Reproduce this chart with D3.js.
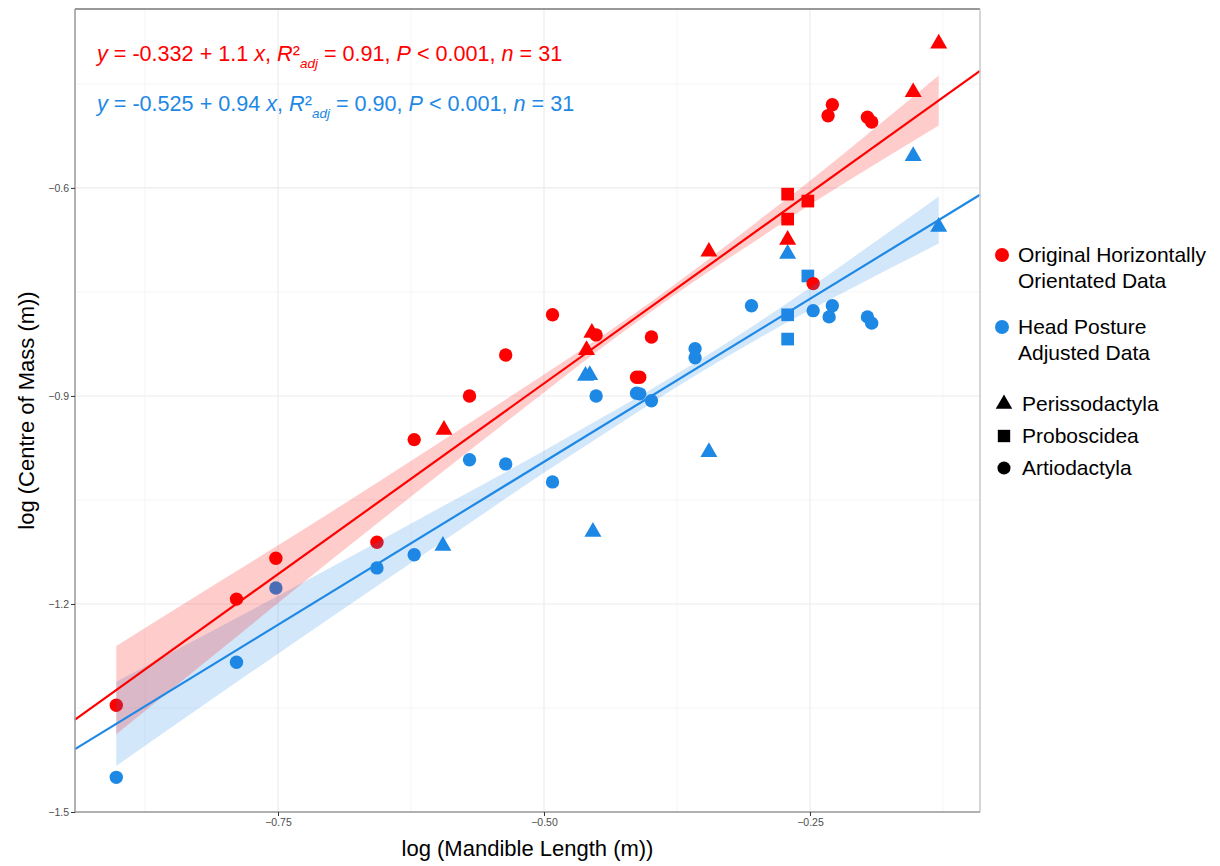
<!DOCTYPE html>
<html><head><meta charset="utf-8">
<script src="https://cdn.jsdelivr.net/npm/d3@7"></script>
<style>body{margin:0;background:#fff} svg{display:block} text{font-family:"Liberation Sans",Arial,sans-serif}</style>
</head><body><svg id="c" width="1220" height="866"></svg>
<script>
// ---------- data ----------
const seriesNames = ["Original Horizontally Orientated Data", "Head Posture Adjusted Data"];
const legendLines = [["Original Horizontally", "Orientated Data"], ["Head Posture", "Adjusted Data"]];
const groupNames = ["Perissodactyla", "Proboscidea", "Artiodactyla"];

const origX = [-0.902,-0.789,-0.752,-0.657,-0.622,-0.570,-0.536,-0.492,-0.451,-0.413,-0.410,-0.399,-0.247,-0.233,-0.229,-0.196,-0.192,
               -0.594,-0.460,-0.455,-0.345,-0.271,-0.153,-0.129,
               -0.271,-0.252,-0.271];
const origY = [-1.346,-1.193,-1.134,-1.111,-0.963,-0.900,-0.841,-0.783,-0.812,-0.873,-0.873,-0.815,-0.738,-0.496,-0.480,-0.498,-0.505,
               -0.949,-0.834,-0.809,-0.692,-0.675,-0.462,-0.392,
               -0.609,-0.619,-0.645];
const origGroup = ["Artiodactyla","Artiodactyla","Artiodactyla","Artiodactyla","Artiodactyla","Artiodactyla","Artiodactyla","Artiodactyla","Artiodactyla","Artiodactyla","Artiodactyla","Artiodactyla","Artiodactyla","Artiodactyla","Artiodactyla","Artiodactyla","Artiodactyla",
               "Perissodactyla","Perissodactyla","Perissodactyla","Perissodactyla","Perissodactyla","Perissodactyla","Perissodactyla",
               "Proboscidea","Proboscidea","Proboscidea"];

const adjX = [-0.902,-0.789,-0.752,-0.657,-0.622,-0.570,-0.536,-0.492,-0.451,-0.413,-0.410,-0.399,-0.358,-0.358,-0.305,-0.247,-0.232,-0.229,-0.196,-0.192,
              -0.595,-0.461,-0.457,-0.454,-0.345,-0.271,-0.153,-0.129,
              -0.252,-0.271,-0.271];
const adjY = [-1.450,-1.284,-1.177,-1.148,-1.129,-0.992,-0.998,-1.024,-0.900,-0.896,-0.897,-0.907,-0.832,-0.845,-0.770,-0.777,-0.786,-0.770,-0.786,-0.795,
              -1.116,-0.871,-0.870,-1.096,-0.981,-0.695,-0.554,-0.656,
              -0.727,-0.783,-0.818];
const adjGroup = ["Artiodactyla","Artiodactyla","Artiodactyla","Artiodactyla","Artiodactyla","Artiodactyla","Artiodactyla","Artiodactyla","Artiodactyla","Artiodactyla","Artiodactyla","Artiodactyla","Artiodactyla","Artiodactyla","Artiodactyla","Artiodactyla","Artiodactyla","Artiodactyla","Artiodactyla","Artiodactyla",
              "Perissodactyla","Perissodactyla","Perissodactyla","Perissodactyla","Perissodactyla","Perissodactyla","Perissodactyla","Perissodactyla",
              "Proboscidea","Proboscidea","Proboscidea"];

// fitted lines (intercept, slope) from the annotations
const origFit = [-0.332, 1.1];
const adjFit = [-0.525, 0.94];

// confidence band half-widths
const bandX        = [-0.902, -0.80, -0.70, -0.60, -0.50, -0.45, -0.40, -0.35, -0.30, -0.25, -0.20, -0.129];
const origBandHalf = [0.0635, 0.049, 0.0346, 0.0231, 0.013, 0.0087, 0.0072, 0.0087, 0.013, 0.0173, 0.0245, 0.0361];
const adjBandHalf  = [0.0606, 0.0476, 0.0361, 0.026, 0.0159, 0.013, 0.0101, 0.0094, 0.0115, 0.0159, 0.0231, 0.0339];

const xTicks = [-0.75, -0.50, -0.25];
const xTickLabels = ["\u22120.75", "\u22120.50", "\u22120.25"];
const xMinor = [-0.875, -0.625, -0.375, -0.125];
const yTicks = [-0.6, -0.9, -1.2, -1.5];
const yTickLabels = ["\u22120.6", "\u22120.9", "\u22121.2", "\u22121.5"];
const yMinor = [-0.45, -0.75, -1.05, -1.35];

const origEq = [["y", "i"], [" = -0.332 + 1.1 ", ""], ["x", "i"], [", ", ""], ["R", "i"], ["\u00B2", ""], ["adj", "sub"], [" = 0.91, ", ""], ["P", "i"], [" < 0.001, ", ""], ["n", "i"], [" = 31", ""]];
const adjEq  = [["y", "i"], [" = -0.525 + 0.94 ", ""], ["x", "i"], [", ", ""], ["R", "i"], ["\u00B2", ""], ["adj", "sub"], [" = 0.90, ", ""], ["P", "i"], [" < 0.001, ", ""], ["n", "i"], [" = 31", ""]];

const xTitle = "log (Mandible Length (m))";
const yTitle = "log (Centre of Mass (m))";

// ---------- styles ----------
const RED = "#FF0000", BLUE = "#1E88E5";
const L = 75, R = 980, T = 9, B = 812;

const svg = d3.select("#c");
const x = d3.scaleLinear().domain([-0.9408, -0.0902]).range([L, R]);
const y = d3.scaleLinear().domain([-1.5, -0.342]).range([B, T]);

// grid
const g = svg.append("g");
g.selectAll(".xm").data(xMinor).join("line").attr("x1", d => x(d)).attr("x2", d => x(d)).attr("y1", T).attr("y2", B).attr("stroke", "#F3F3F3").attr("stroke-width", 0.8);
g.selectAll(".ym").data(yMinor).join("line").attr("y1", d => y(d)).attr("y2", d => y(d)).attr("x1", L).attr("x2", R).attr("stroke", "#F3F3F3").attr("stroke-width", 0.8);
g.selectAll(".xM").data(xTicks).join("line").attr("x1", d => x(d)).attr("x2", d => x(d)).attr("y1", T).attr("y2", B).attr("stroke", "#EBEBEB").attr("stroke-width", 1.1);
g.selectAll(".yM").data(yTicks).join("line").attr("y1", d => y(d)).attr("y2", d => y(d)).attr("x1", L).attr("x2", R).attr("stroke", "#EBEBEB").attr("stroke-width", 1.1);

// points
const symSize = {"Artiodactyla": 141, "Perissodactyla": 125, "Proboscidea": 161};
const symType = {"Artiodactyla": d3.symbolCircle, "Perissodactyla": d3.symbolTriangle, "Proboscidea": d3.symbolSquare};
function drawPoints(xs, ys, gs, color) {
  svg.append("g").selectAll("path").data(xs.map((v, i) => [v, ys[i], gs[i]])).join("path")
    .attr("d", d => d3.symbol().type(symType[d[2]]).size(symSize[d[2]])())
    .attr("transform", d => `translate(${x(d[0])},${y(d[1])})`)
    .attr("fill", color);
}
drawPoints(adjX, adjY, adjGroup, BLUE);
drawPoints(origX, origY, origGroup, RED);

// ribbons
function band(half, fit, color) {
  const area = d3.area().curve(d3.curveMonotoneX)
    .x((d, i) => x(bandX[i]))
    .y0((d, i) => y(fit[0] + fit[1] * bandX[i] - half[i]))
    .y1((d, i) => y(fit[0] + fit[1] * bandX[i] + half[i]));
  svg.append("path").attr("d", area(half)).attr("fill", color).attr("fill-opacity", 0.2);
}
band(adjBandHalf, adjFit, BLUE);
band(origBandHalf, origFit, RED);

// lines
function fitLine(fit, color) {
  const xd = x.domain();
  svg.append("line").attr("x1", x(xd[0])).attr("x2", x(xd[1]))
    .attr("y1", y(fit[0] + fit[1] * xd[0])).attr("y2", y(fit[0] + fit[1] * xd[1]))
    .attr("stroke", color).attr("stroke-width", 2.2);
}
fitLine(adjFit, BLUE);
fitLine(origFit, RED);

// panel border
svg.append("line").attr("x1", L).attr("x2", R).attr("y1", T).attr("y2", T).attr("stroke", "#333").attr("stroke-width", 1);
svg.append("line").attr("x1", R).attr("x2", R).attr("y1", T).attr("y2", B).attr("stroke", "#C8C8C8").attr("stroke-width", 1.5);
svg.append("line").attr("x1", L).attr("x2", L).attr("y1", T).attr("y2", B + 1).attr("stroke", "#999").attr("stroke-width", 1.5);
svg.append("line").attr("x1", L).attr("x2", R).attr("y1", B).attr("y2", B).attr("stroke", "#999").attr("stroke-width", 1.5);

// axes
const xAxis = d3.axisBottom(x).tickValues(xTicks).tickFormat((d, i) => xTickLabels[i]).tickSize(4).tickPadding(3);
const xa = svg.append("g").attr("transform", `translate(0,${B})`).call(xAxis);
const yAxis = d3.axisLeft(y).tickValues(yTicks).tickFormat((d, i) => yTickLabels[i]).tickSize(4).tickPadding(2);
const ya = svg.append("g").attr("transform", `translate(${L},0)`).call(yAxis);
[xa, ya].forEach(a => {
  a.select(".domain").remove();
  a.selectAll(".tick line").attr("stroke", "#333");
  a.selectAll(".tick text").attr("fill", "#4D4D4D").style("font-size", "10.5px").style("font-family", '"Liberation Sans",Arial,sans-serif');
});

// axis titles
svg.append("text").attr("x", (L + R) / 2).attr("y", 856).attr("text-anchor", "middle").style("font-size", "22px").attr("fill", "#000").text(xTitle);
svg.append("text").attr("transform", `translate(34,${(T + B) / 2}) rotate(-90)`).attr("text-anchor", "middle").style("font-size", "22px").attr("fill", "#000").text(yTitle);

// equations
function eq(parts, yy, color) {
  const t = svg.append("text").attr("x", 97).attr("y", yy).attr("fill", color).style("font-size", "21.6px");
  let shifted = false;
  parts.forEach(p => {
    const ts = t.append("tspan").text(p[0]);
    if (p[1] === "i") ts.style("font-style", "italic");
    if (p[1] === "sub") { ts.style("font-style", "italic").style("font-size", "13.5px").attr("dy", 7); shifted = true; }
    else if (shifted) { ts.attr("dy", -7); shifted = false; }
  });
}
eq(origEq, 61, RED);
eq(adjEq, 111, BLUE);

// legend
const lg = svg.append("g");
const legColors = [RED, BLUE];
const legY = [255, 327];
legendLines.forEach((lines, i) => {
  lg.append("circle").attr("cx", 1002).attr("cy", legY[i]).attr("r", 7).attr("fill", legColors[i]);
  lines.forEach((s, j) => lg.append("text").attr("x", 1018).attr("y", legY[i] + 7 + j * 26).style("font-size", "21px").attr("fill", "#000").text(s));
});
const shY = [404, 436, 468];
groupNames.forEach((n, i) => {
  lg.append("path").attr("d", d3.symbol().type(symType[n]).size(symSize[n] * 0.95)()).attr("transform", `translate(1004,${shY[i]})`).attr("fill", "#000");
  lg.append("text").attr("x", 1022).attr("y", shY[i] + 7).style("font-size", "21px").attr("fill", "#000").text(n);
});
</script></body></html>
